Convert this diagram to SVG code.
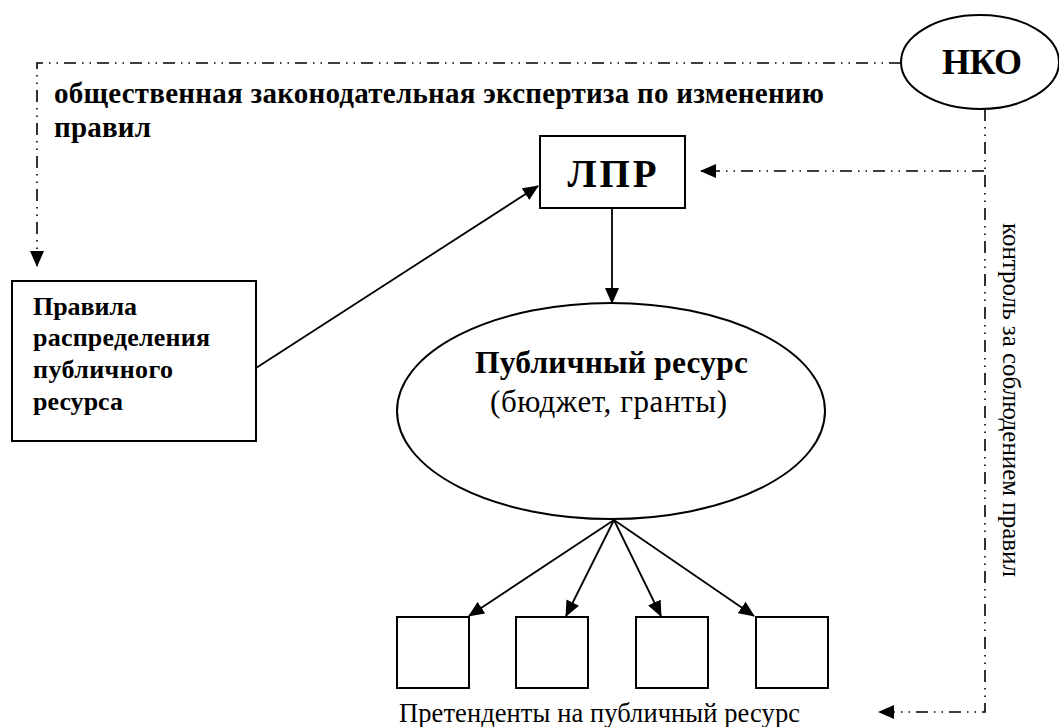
<svg xmlns="http://www.w3.org/2000/svg" width="1059" height="727" viewBox="0 0 1059 727">
<style>
.sh{fill:#fff;stroke:#000;stroke-width:2}
.ln{fill:none;stroke:#000;stroke-width:1.8}
.dd{fill:none;stroke:#000;stroke-width:1.6;stroke-dasharray:12 6 1.5 6 1.5 6}
.b{font-family:"Liberation Serif","Times New Roman",serif;font-weight:bold;fill:#000}
.r{font-family:"Liberation Serif","Times New Roman",serif;fill:#000}
</style>
<defs>
<marker id="ah" markerUnits="userSpaceOnUse" markerWidth="16" markerHeight="14" refX="15" refY="7" orient="auto">
<path d="M0,0 L16,7 L0,14 Z" fill="#000"/>
</marker>
</defs>
<rect width="1059" height="727" fill="#fff"/>
<g id="connectors">
<path class="dd" d="M901,63 H37 V266" marker-end="url(#ah)"/>
<path class="dd" d="M984,171 H701" marker-end="url(#ah)"/>
<path class="dd" d="M985,109 V712 H879" marker-end="url(#ah)"/>
<path class="ln" d="M256,368 L538,186" marker-end="url(#ah)"/>
<path class="ln" d="M612,208 V303" marker-end="url(#ah)"/>
<path class="ln" d="M614,520 L469,616" marker-end="url(#ah)"/>
<path class="ln" d="M614,520 L566,616" marker-end="url(#ah)"/>
<path class="ln" d="M614,520 L661,616" marker-end="url(#ah)"/>
<path class="ln" d="M614,520 L754,616" marker-end="url(#ah)"/>
</g>
<g id="label-expertise">
<text class="b" x="54" y="103" font-size="29" textLength="770" lengthAdjust="spacing">общественная законодательная экспертиза по изменению</text>
<text class="b" x="54" y="137" font-size="29" textLength="97" lengthAdjust="spacing">правил</text>
</g>
<g id="nko">
<ellipse class="sh" cx="980" cy="62" rx="79" ry="47"/>
<text class="b" x="982" y="74" font-size="36" text-anchor="middle" textLength="80" lengthAdjust="spacing">НКО</text>
</g>
<g id="lpr">
<rect class="sh" x="540" y="136" width="145" height="72"/>
<text class="b" x="612" y="187" font-size="39" text-anchor="middle" textLength="89" lengthAdjust="spacing">ЛПР</text>
</g>
<g id="rules">
<rect class="sh" x="12" y="281" width="244" height="160"/>
<text class="b" x="33" y="315" font-size="26" textLength="104" lengthAdjust="spacing">Правила</text>
<text class="b" x="33" y="346" font-size="26" textLength="177" lengthAdjust="spacing">распределения</text>
<text class="b" x="33" y="378" font-size="26" textLength="140" lengthAdjust="spacing">публичного</text>
<text class="b" x="33" y="410" font-size="26" textLength="90" lengthAdjust="spacing">ресурса</text>
</g>
<g id="resource">
<ellipse class="sh" cx="611" cy="411" rx="214" ry="108"/>
<text class="b" x="475" y="373" font-size="31.5" textLength="273" lengthAdjust="spacing">Публичный ресурс</text>
<text class="r" x="490" y="412" font-size="31" textLength="237" lengthAdjust="spacing">(бюджет, гранты)</text>
</g>
<g id="claimant1"><rect class="sh" x="397" y="617" width="72" height="71"/></g>
<g id="claimant2"><rect class="sh" x="516" y="617" width="72" height="71"/></g>
<g id="claimant3"><rect class="sh" x="636" y="617" width="72" height="71"/></g>
<g id="claimant4"><rect class="sh" x="756" y="617" width="72" height="71"/></g>
<g id="label-claimants">
<text class="r" x="399" y="722" font-size="26.5" textLength="401" lengthAdjust="spacing">Претенденты на публичный ресурс</text>
</g>
<g id="label-control">
<text class="r" x="1003" y="223" font-size="25" transform="rotate(90 1003 223)">контроль за соблюдением правил</text>
</g>
</svg>
